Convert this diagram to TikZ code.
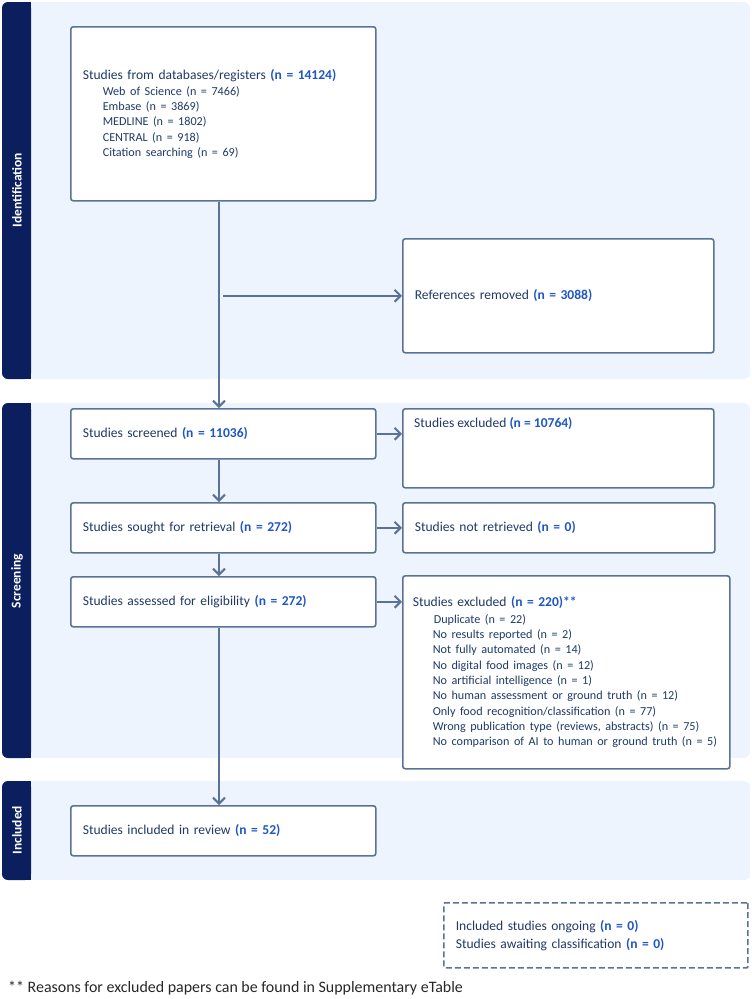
\documentclass[tikz,border=0pt]{standalone}
\usepackage{fontspec}
\setmainfont{Carlito}
\usetikzlibrary{arrows.meta}
\definecolor{bandbg}{HTML}{EEF4FD}
\definecolor{tabnavy}{HTML}{0B1F5E}
\definecolor{boxline}{HTML}{5A7295}
\definecolor{txtnavy}{HTML}{1F3A68}
\definecolor{nblue}{HTML}{1E56C8}
\newcommand{\ncount}[1]{\textcolor{nblue}{\textbf{#1}}}
\newcommand{\srcline}[1]{\\\hspace*{20bp}\mbox{\fontsize{12.2}{15.4}\selectfont #1}}
\begin{document}
\begin{tikzpicture}[x=1bp, y=-1bp,
    font=\fontsize{13.6}{15.4}\selectfont\color{txtnavy},
    box/.style={draw=boxline, line width=1.6bp, rounded corners=2.5bp, fill=white, anchor=north west, inner xsep=12bp, inner ysep=0bp, align=left},
    widebox/.style={box, inner xsep=10bp},
    flow/.style={draw=boxline, line width=2bp, -{Straight Barb[length=6bp, width=12bp]}},
    band/.style={fill=bandbg, rounded corners=6bp},
    tabbar/.style={fill=tabnavy, rounded corners=6bp},
    tablabel/.style={rotate=90, text=white, font=\fontsize{13.5}{16}\selectfont\bfseries},
    notetext/.style={anchor=west, inner sep=0bp, text=black!85, font=\fontsize{16}{18}\selectfont}]
    \useasboundingbox (0,0) rectangle (752,999);
    \fill[band] (2,2) rectangle (750,379);
    \fill[band] (2,403) rectangle (750,758);
    \fill[band] (2,781) rectangle (750,880);
    \fill[tabbar] (2,2) rectangle (31,379); \fill[tabnavy] (20,2) rectangle (31,379);
    \fill[tabbar] (2,403) rectangle (31,758); \fill[tabnavy] (20,403) rectangle (31,758);
    \fill[tabbar] (2,781) rectangle (31,880); \fill[tabnavy] (20,781) rectangle (31,880);
    \node[tablabel] (identtab) at (17,190) {Identification};
    \node[tablabel] (screentab) at (17,581) {Screening};
    \node[tablabel] (incltab) at (17,830) {Included};
    \node[box, minimum width=305bp, minimum height=174bp, text width=281bp] (sources) at (70,26) {Studies from databases/registers \ncount{(n = 14124)}\\[0.6bp]\hspace*{20bp}\mbox{\fontsize{12.2}{15.4}\selectfont Web of Science (n = 7466)}\srcline{Embase (n = 3869)}\srcline{MEDLINE (n = 1802)}\srcline{CENTRAL (n = 918)}\srcline{Citation searching (n = 69)}};
    \node[box, minimum width=311bp, minimum height=114bp, text width=287bp] (removed) at (402,238) {References removed \ncount{(n = 3088)}};
    \node[box, minimum width=305bp, minimum height=50bp, text width=281bp] (screened) at (70,408) {Studies screened \ncount{(n = 11036)}};
    \node[box, minimum width=311bp, minimum height=79bp] (exclscreen) at (402,408) {};
    \node[anchor=north west, inner sep=0bp] (exclscreentext) at (414,417) {Studies excluded \ncount{(n = 10764)}};
    \node[box, minimum width=305bp, minimum height=50bp, text width=281bp] (sought) at (70,502) {Studies sought for retrieval \ncount{(n = 272)}};
    \node[box, minimum width=312bp, minimum height=50bp, text width=288bp] (notret) at (402,502) {Studies not retrieved \ncount{(n = 0)}};
    \node[box, minimum width=305bp, minimum height=50bp, text width=281bp] (assessed) at (70,576) {Studies assessed for eligibility \ncount{(n = 272)}};
    \node[box, minimum width=305bp, minimum height=50bp, text width=281bp] (included) at (70,805) {Studies included in review \ncount{(n = 52)}};
    \node[widebox, minimum width=327bp, minimum height=193bp, text width=307bp] (exclelig) at (402,575) {Studies excluded \ncount{(n = 220)**}\\[1.2bp]\hspace*{21bp}\mbox{\fontsize{12.2}{15.4}\selectfont Duplicate (n = 22)}\srcline{No results reported (n = 2)}\srcline{Not fully automated (n = 14)}\srcline{No digital food images (n = 12)}\srcline{No artificial intelligence (n = 1)}\srcline{No human assessment or ground truth (n = 12)}\srcline{Only food recognition/classification (n = 77)}\srcline{Wrong publication type (reviews, abstracts) (n = 75)}\srcline{No comparison of AI to human or ground truth (n = 5)}};
    \node[box, dashed, dash pattern=on 6bp off 3bp, rounded corners=1bp, minimum width=304bp, minimum height=65bp, text width=280bp] (ongoing) at (443,902) {Included studies ongoing \ncount{(n = 0)}\\[2.4bp]Studies awaiting classification \ncount{(n = 0)}};
    \node[notetext] (footnote) at (8,988) {** Reasons for excluded papers can be found in Supplementary eTable};
    \coordinate (trunk) at (219,0);
    \draw[flow] (sources.south -| trunk) -- (screened.north -| trunk);
    \draw[flow] (removed.west -| trunk) ++(4,0) -- (removed.west);
    \draw[flow] (screened.south -| trunk) -- (sought.north -| trunk);
    \draw[flow] (sought.south -| trunk) -- (assessed.north -| trunk);
    \draw[flow] (assessed.south -| trunk) -- (included.north -| trunk);
    \draw[flow] (screened.east) -- (screened.east -| exclscreen.west);
    \draw[flow] (sought.east) -- (notret.west);
    \draw[flow] (assessed.east) -- (assessed.east -| exclelig.west);
\end{tikzpicture}
\end{document}
